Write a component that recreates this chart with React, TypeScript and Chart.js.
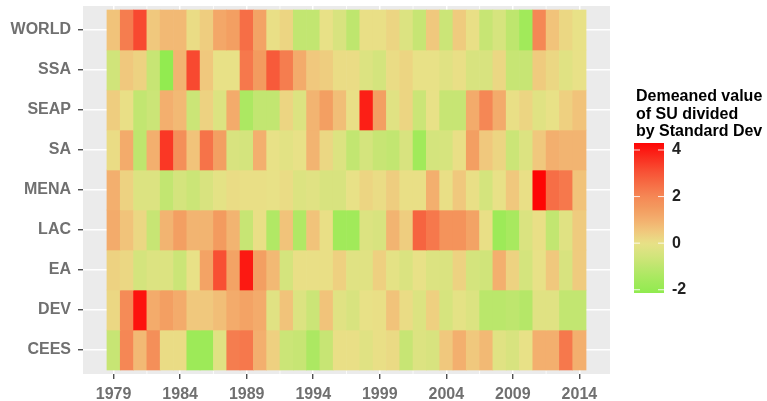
import React, { useEffect, useRef } from 'react';
import { Chart, registerables } from 'chart.js';

Chart.register(...registerables);

const REGIONS = ['WORLD', 'SSA', 'SEAP', 'SA', 'MENA', 'LAC', 'EA', 'DEV', 'CEES'];
const YEARS = [
  1979, 1980, 1981, 1982, 1983, 1984, 1985, 1986, 1987, 1988, 1989, 1990,
  1991, 1992, 1993, 1994, 1995, 1996, 1997, 1998, 1999, 2000, 2001, 2002,
  2003, 2004, 2005, 2006, 2007, 2008, 2009, 2010, 2011, 2012, 2013, 2014,
];
const X_TICKS = [1979, 1984, 1989, 1994, 1999, 2004, 2009, 2014];
const X_MINOR = [1981.5, 1986.5, 1991.5, 1996.5, 2001.5, 2006.5, 2011.5];
const LEGEND_TITLE = ['Demeaned value', 'of SU divided', 'by Standard Dev'];
const LEGEND_TICKS = [4, 2, 0, -2];
const LEGEND_MIN = -2.14;
const LEGEND_MAX = 4.3;

const WORLD = [0.6, 2.2, 3.2, 0.5, 0.8, 0.8, 0.1, 0.4, 1.2, 1.4, 2.5, 1.3, 0.05, 0.25, -0.9, -0.9, 0, -0.4, -1.0, 0.05, 0.05, 0.25, -0.3, -0.8, 0.5, -0.7, 0.45, 0.05, -0.8, -0.45, -1.0, -1.7, 2.0, 0.6, 0.2, 0];
const SSA = [-0.6, 0.5, 0.3, -0.8, -2.1, 0.9, 3.2, 0.5, 0, 0, 2.3, 1.5, 2.9, 2.2, 1.1, 0.5, 0.4, 0.1, 0.1, -0.3, -0.5, 0.1, 0.25, 0, 0, -0.2, 0.05, -0.4, -0.4, 0.2, -0.8, -0.8, 0.45, 0.2, -0.2, 0];
const SEAP = [0.4, 0.05, -0.9, -0.7, 1.0, 0.8, -0.7, 0.3, -0.3, 1.1, -1.4, -0.9, -0.9, 0.25, -0.3, 0.9, 1.4, 0.7, 0.05, 3.9, 1.4, -0.2, 0.25, -0.7, 0, -0.8, -0.8, 1.1, 2.0, 1.1, 0.05, 0.25, -0.2, 0, 0.35, 0.6];
const SA = [0.1, 1.1, -1.0, 1.0, 3.5, 1.8, 0.6, 2.4, 1.4, -0.4, -0.5, 1.0, 0, -0.15, 0, 0.9, 0.2, -0.3, -0.9, -0.5, -0.8, -0.9, -0.4, -1.7, -0.5, -0.45, 0.05, 1.4, 0.5, 0.25, -0.7, -0.3, 0.5, 1.0, 0.9, 0.9];
const MENA = [1.0, 0.3, -0.3, -0.3, -0.9, -0.5, -0.7, -0.4, -0.1, 0.1, 0.05, 0.05, 0, 0.1, -0.3, -0.2, -0.4, -0.4, 0, 0.25, 0.1, 0.4, 0.05, 0.05, 1.0, 0.05, 0.5, 0.05, -0.5, 0, 0.5, 0.05, 4.3, 2.5, 2.3, 0.6];
const LAC = [1.1, 0.6, 0.2, -0.8, 0.9, 1.4, 0.9, 0.9, 1.5, 0.9, -0.8, 0.05, -1.3, 0.6, -1.3, 0.6, 0.05, -1.7, -1.7, -0.3, -0.4, 0.9, 0.4, 2.7, 2.3, 1.7, 1.7, 1.3, 0.05, -1.8, -1.5, -0.35, 0.05, -0.9, -0.2, 0.45];
const EA = [0.3, 0.2, -0.5, -0.3, -0.3, -0.7, 0, 1.3, 3.1, 1.3, 4.0, 1.4, 0.8, -0.5, 0.05, 0.05, 0.05, 0.35, -0.2, -0.2, 0.35, -0.1, -0.35, 0, -0.3, -0.35, 0.3, -0.5, -0.6, 1.0, 0.3, -0.5, 0, 0.5, -0.4, 0.45];
const DEV = [0.2, 1.9, 4.1, 1.1, 1.4, 1.1, 0.5, 0.5, 0.7, 1.1, 1.3, 1.1, -0.2, 0.6, -0.3, -0.7, 0.6, -0.2, -0.4, 0, 0.05, 0.6, 0.1, -0.3, 0.35, -0.45, -0.1, -0.3, -1.1, -1.1, -1.0, -1.2, -0.2, -0.2, -0.9, -0.9];
const CEES = [-0.8, 2.0, 0.8, 1.8, 0.1, 0.1, -1.8, -1.8, -0.2, 2.2, 2.3, 1.0, 0.35, -0.7, -0.8, -1.4, -0.8, 0.05, 0.05, -0.2, 0.05, 0.15, -0.8, -0.3, -0.4, 0.5, 1.0, 0.5, 0.8, -0.2, -0.4, 0, 1.0, 1.0, 2.3, 1.0];

const ROWS = [WORLD, SSA, SEAP, SA, MENA, LAC, EA, DEV, CEES];

// colour ramp (value, r, g, b)
const STOPS: number[][] = [
  [-2.2, 142, 235, 78],
  [-1.5, 168, 233, 95],
  [-1.0, 190, 230, 110],
  [-0.5, 212, 228, 125],
  [0, 232, 225, 135],
  [0.5, 240, 200, 125],
  [1.0, 243, 175, 110],
  [1.5, 243, 155, 95],
  [2.0, 245, 135, 85],
  [3.0, 247, 85, 55],
  [4.0, 252, 25, 18],
  [4.4, 255, 0, 0],
];

function colorFor(v: number): string {
  if (v <= STOPS[0][0]) return `rgb(${STOPS[0][1]},${STOPS[0][2]},${STOPS[0][3]})`;
  for (let i = 1; i < STOPS.length; i++) {
    const a = STOPS[i - 1];
    const b = STOPS[i];
    if (v <= b[0]) {
      const t = (v - a[0]) / (b[0] - a[0]);
      const r = Math.round(a[1] + (b[1] - a[1]) * t);
      const g = Math.round(a[2] + (b[2] - a[2]) * t);
      const bl = Math.round(a[3] + (b[3] - a[3]) * t);
      return `rgb(${r},${g},${bl})`;
    }
  }
  const l = STOPS[STOPS.length - 1];
  return `rgb(${l[1]},${l[2]},${l[3]})`;
}

const FONT = '"Liberation Sans", Arial, Helvetica, sans-serif';

const panelPlugin = {
  id: 'panelBg',
  beforeDraw(chart: any) {
    const { ctx, chartArea } = chart;
    ctx.save();
    ctx.fillStyle = '#EBEBEB';
    ctx.fillRect(chartArea.left, chartArea.top, chartArea.right - chartArea.left, chartArea.bottom - chartArea.top);
    ctx.restore();
  },
  beforeDatasetsDraw(chart: any) {
    const { ctx, chartArea } = chart;
    const x = chart.scales.x;
    ctx.save();
    ctx.strokeStyle = '#FFFFFF';
    ctx.lineWidth = 0.8;
    X_MINOR.forEach((v) => {
      const px = x.getPixelForValue(v);
      ctx.beginPath();
      ctx.moveTo(px, chartArea.top);
      ctx.lineTo(px, chartArea.bottom);
      ctx.stroke();
    });
    ctx.restore();
  },
};

const legendPlugin = {
  id: 'heatLegend',
  afterDraw(chart: any) {
    const ctx = chart.ctx;
    ctx.save();
    ctx.font = `bold 16px ${FONT}`;
    ctx.fillStyle = '#000';
    ctx.textAlign = 'left';
    ctx.textBaseline = 'alphabetic';
    LEGEND_TITLE.forEach((t, i) => ctx.fillText(t, 636, 101 + i * 17.5));

    const x0 = 634;
    const w = 30;
    const top = 143;
    const bottom = 293;
    const grad = ctx.createLinearGradient(0, bottom, 0, top);
    for (let k = 0; k <= 40; k++) {
      const v = LEGEND_MIN + ((LEGEND_MAX - LEGEND_MIN) * k) / 40;
      grad.addColorStop(k / 40, colorFor(v));
    }
    ctx.fillStyle = grad;
    ctx.fillRect(x0, top, w, bottom - top);

    ctx.strokeStyle = 'rgba(255,255,255,0.85)';
    ctx.lineWidth = 1;
    ctx.fillStyle = '#222';
    ctx.textBaseline = 'middle';
    LEGEND_TICKS.forEach((v) => {
      const y = bottom - ((v - LEGEND_MIN) / (LEGEND_MAX - LEGEND_MIN)) * (bottom - top);
      ctx.beginPath();
      ctx.moveTo(x0, y);
      ctx.lineTo(x0 + 6, y);
      ctx.moveTo(x0 + w - 6, y);
      ctx.lineTo(x0 + w, y);
      ctx.stroke();
      ctx.fillText(String(v), 672, y);
    });
    ctx.restore();
  },
};

function zeroPad(s: any) {
  s.paddingTop = 0;
  s.paddingBottom = 0;
  s.paddingLeft = 0;
  s.paddingRight = 0;
}

export default function App() {
  const ref = useRef<HTMLCanvasElement | null>(null);

  useEffect(() => {
    if (!ref.current) return;
    const datasets = ROWS.map((vals, r) => ({
      label: REGIONS[r],
      data: YEARS.map((yr, j) => ({ x: yr, y: [r - 0.5, r + 0.5], v: vals[j] })),
      backgroundColor: vals.map(colorFor),
      borderWidth: 0,
      barPercentage: 1,
      categoryPercentage: 1,
      grouped: false,
    }));

    const chart = new Chart(ref.current, {
      type: 'bar',
      data: { datasets: datasets as any },
      options: {
        animation: false,
        responsive: true,
        maintainAspectRatio: false,
        layout: { padding: { top: 6, right: 157, left: 0, bottom: 0 } },
        plugins: { legend: { display: false }, tooltip: { enabled: false } },
        scales: {
          x: {
            type: 'linear',
            min: 1976.7,
            max: 2016.3,
            offset: false,
            afterFit: (s: any) => { s.height = 27; zeroPad(s); },
            afterBuildTicks: (s: any) => { s.ticks = X_TICKS.map((v) => ({ value: v })); },
            grid: { offset: false, color: '#FFFFFF', lineWidth: 1.5, tickColor: '#333333', tickLength: 5, tickWidth: 1.2 },
            border: { display: false },
            ticks: {
              autoSkip: false,
              maxRotation: 0,
              padding: 6,
              color: '#707070',
              font: { family: FONT, size: 16, weight: 'bold' },
              callback: (v: any) => String(v),
            },
          },
          y: {
            type: 'linear',
            min: -0.6,
            max: 8.6,
            reverse: true,
            afterFit: (s: any) => { s.width = 83; zeroPad(s); },
            afterBuildTicks: (s: any) => { s.ticks = REGIONS.map((_, i) => ({ value: i })); },
            grid: { color: '#FFFFFF', lineWidth: 1.5, tickColor: '#333333', tickLength: 5, tickWidth: 1.2 },
            border: { display: false },
            ticks: {
              autoSkip: false,
              padding: 7,
              color: '#707070',
              font: { family: FONT, size: 16, weight: 'bold' },
              callback: (v: any) => REGIONS[Math.round(Number(v))] ?? '',
            },
          },
        },
      } as any,
      plugins: [panelPlugin, legendPlugin],
    });
    return () => chart.destroy();
  }, []);

  return (
    <div style={{ position: 'fixed', left: 0, top: 0, width: 767, height: 401, background: '#fff' }}>
      <canvas ref={ref} />
    </div>
  );
}
